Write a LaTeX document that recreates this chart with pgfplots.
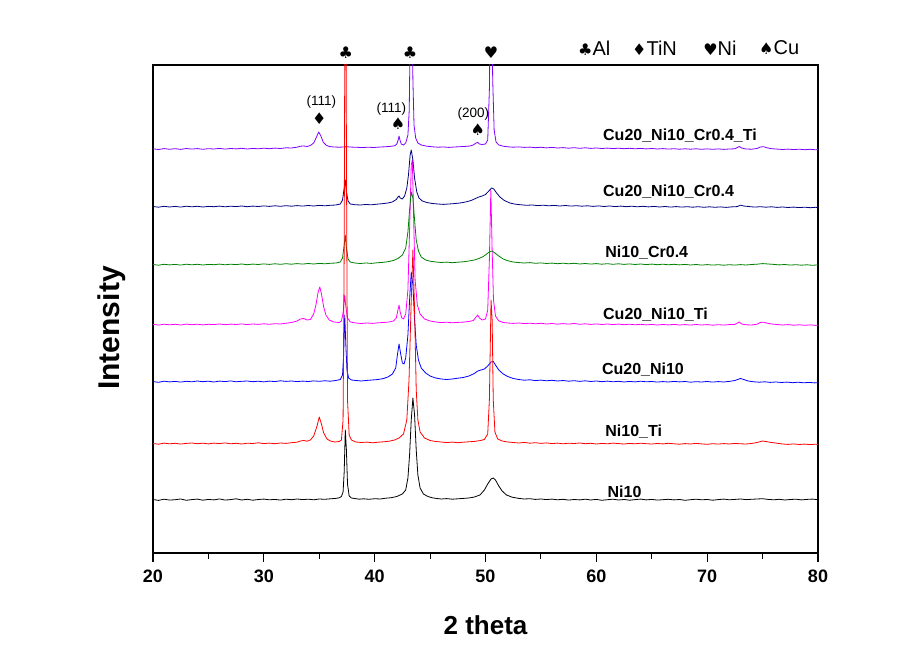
\documentclass[border=0pt]{standalone}
\usepackage{pgfplots}
\pgfplotsset{compat=1.18}
\usepackage{fontspec}
\setmainfont{Liberation Sans}
\newfontfamily\sym{DejaVu Sans}
\definecolor{cviolet}{RGB}{128,0,255}
\definecolor{cnavy}{RGB}{0,0,128}
\definecolor{cgreen}{RGB}{0,128,0}
\definecolor{cmag}{RGB}{255,0,255}
\definecolor{cblue}{RGB}{0,0,255}
\definecolor{cred}{RGB}{255,0,0}
\begin{document}
\begin{tikzpicture}
\path[use as bounding box] (0,0) rectangle (918pt,650pt);
\begin{axis}[at={(153pt,97pt)}, anchor=south west, scale only axis,
  width=665pt, height=488pt,
  xmin=20, xmax=80, ymin=-3, ymax=485,
  axis line style={line width=1.1pt},
  xtick={20,30,...,80}, minor xtick={25,35,...,75},
  ytick=\empty, xtick pos=left, tick align=outside,
  major tick length=9pt, minor tick length=6pt,
  every tick/.style={black, line width=1.1pt},
  xticklabel style={font=\fontsize{18}{18}\selectfont\bfseries, yshift=-4pt},
  /pgf/number format/assume math mode=true,
  clip mode=individual,
  every axis plot/.append style={line width=0.8pt, line join=round},
]
% Ni10 (black)
\addplot[black] coordinates {(20,50.5)(20.5,49.6)(21,50.8)(21.5,49.9)(22,50.3)(22.5,51.0)(23,49.7)(23.5,50.4)(24,50.9)(24.5,49.8)(25,50.6)(25.5,50.1)(26,51.1)(26.5,49.9)(27,50.4)(27.5,51.2)(28,50.0)(28.5,50.7)(29,49.8)(29.5,50.5)(30,50.9)(30.5,50.2)(31,50.6)(31.5,49.9)(32,50.8)(32.5,50.3)(33,51.0)(33.5,50.4)(34,50.8)(34.5,50.2)(35,51.0)(35.5,50.7)(36,51.2)(36.5,51.6)(36.8,52.2)(37.0,53.5)(37.15,58)(37.25,78)(37.35,120)(37.45,100)(37.55,66)(37.7,54)(37.9,52)(38.2,51.5)(38.6,50.8)(39,51.2)(39.5,50.7)(40,51.3)(40.5,51.0)(41,51.8)(41.5,52.3)(42,53.5)(42.5,56)(42.8,60)(43.0,72)(43.15,95)(43.3,130)(43.45,152)(43.6,135)(43.75,100)(43.9,75)(44.1,62)(44.4,56)(44.8,53.5)(45.2,52.2)(45.6,51.5)(46,51.0)(46.5,51.4)(47,50.8)(47.5,51.2)(48,51.6)(48.5,52)(49,53)(49.5,55)(49.9,60)(50.2,66)(50.5,71)(50.7,72)(50.9,70)(51.2,64)(51.5,59)(51.9,55)(52.4,52.8)(53,51.6)(53.5,51.0)(54,51.3)(54.5,50.6)(55,51.0)(55.5,50.4)(56,50.9)(56.5,50.2)(57,50.7)(57.5,49.9)(58,50.5)(58.5,50.1)(59,50.8)(59.5,50.0)(60,50.6)(60.5,49.7)(61,50.3)(61.5,50.8)(62,50.0)(62.5,50.5)(63,49.8)(63.5,50.4)(64,50.9)(64.5,50.1)(65,50.6)(65.5,49.9)(66,50.3)(66.5,50.7)(67,50.1)(67.5,50.5)(68,49.7)(68.5,50.3)(69,50.8)(69.5,50.2)(70,50.5)(70.5,49.8)(71,50.4)(71.5,50.9)(72,50.2)(72.5,50.6)(73,51.0)(73.5,50.4)(74,50.7)(74.5,51.0)(75,51.3)(75.5,50.6)(76,50.2)(76.5,50.7)(77,50.0)(77.5,50.5)(78,50.8)(78.5,50.1)(79,50.6)(79.5,50.9)(80,50.3)};
% Cu20_Ni10 (blue)
\addplot[cblue] coordinates {(20,168.4)(20.5,167.7)(21,168.8)(21.5,168.1)(22,168.6)(22.5,167.9)(23,168.7)(23.5,168.2)(24,169.0)(24.5,168.3)(25,168.8)(25.5,168.0)(26,168.9)(26.5,168.4)(27,169.1)(27.5,168.2)(28,168.7)(28.5,169.0)(29,168.3)(29.5,168.8)(30,168.1)(30.5,168.9)(31,168.4)(31.5,169.2)(32,168.6)(32.5,169.0)(33,168.4)(33.5,168.9)(34,168.5)(34.5,169.1)(35,168.7)(35.5,169.2)(36,168.8)(36.5,169.5)(36.9,170.5)(37.1,175)(37.2,195)(37.3,235)(37.4,205)(37.5,180)(37.65,172)(37.9,170)(38.3,169.5)(38.8,169.0)(39.3,169.6)(39.8,170.0)(40.3,170.5)(40.8,171.5)(41.2,173)(41.6,176)(41.9,182)(42.05,195)(42.2,206)(42.35,196)(42.5,187)(42.65,186)(42.8,192)(43.0,215)(43.15,250)(43.3,278)(43.45,265)(43.6,230)(43.75,205)(43.95,190)(44.2,182)(44.6,177)(45,174)(45.5,172)(46,171)(46.5,170.5)(47,171)(47.5,171.8)(48,172.5)(48.5,174)(49,176.5)(49.3,179)(49.6,180)(49.9,181)(50.2,184)(50.5,188)(50.7,188.5)(50.9,185)(51.2,180)(51.6,176)(52,173.5)(52.5,171.5)(53,170.5)(53.5,169.8)(54,170.2)(54.5,169.4)(55,169.9)(55.5,169.2)(56,169.7)(56.5,169.0)(57,169.5)(57.5,168.8)(58,169.3)(58.5,168.6)(59,169.2)(59.5,168.5)(60,169.0)(60.5,168.3)(61,168.9)(61.5,168.2)(62,168.7)(62.5,168.0)(63,168.6)(63.5,168.1)(64,168.8)(64.5,168.2)(65,168.5)(65.5,167.9)(66,168.4)(66.5,168.0)(67,168.6)(67.5,168.1)(68,168.5)(68.5,167.8)(69,168.3)(69.5,168.0)(70,168.5)(70.5,167.9)(71,168.4)(71.5,168.0)(72,168.6)(72.5,169.5)(73,171.5)(73.3,170.5)(73.7,169)(74.2,168.2)(74.7,167.8)(75.2,168.2)(75.7,167.6)(76.2,168.0)(76.7,167.5)(77.2,167.9)(77.7,167.3)(78.2,167.8)(78.7,167.2)(79.2,167.6)(79.7,167.1)(80,167.4)};
% Cu20_Ni10_Ti (magenta)
\addplot[cmag] coordinates {(20,225.6)(20.5,224.9)(21,225.8)(21.5,225.2)(22,225.7)(22.5,225.0)(23,225.9)(23.5,225.3)(24,225.8)(24.5,225.1)(25,225.7)(25.5,225.4)(26,226.0)(26.5,225.3)(27,225.9)(27.5,225.5)(28,226.1)(28.5,225.4)(29,226.0)(29.5,225.6)(30,226.2)(30.5,225.7)(31,226.3)(31.5,226.0)(32,226.8)(32.5,227.5)(33,229)(33.3,231)(33.6,231.5)(33.9,230)(34.2,230.5)(34.5,236)(34.7,245)(34.9,258)(35.05,263)(35.2,256)(35.4,243)(35.6,235)(35.9,230)(36.3,228)(36.8,227.5)(37.0,229)(37.15,237)(37.3,255)(37.4,243)(37.55,232)(37.8,228)(38.3,227)(38.8,226.5)(39.3,227.0)(39.8,226.6)(40.3,227.2)(40.8,227.5)(41.3,228)(41.7,229)(41.95,232)(42.1,240)(42.2,245)(42.3,238)(42.45,232)(42.6,231)(42.8,236)(43.0,260)(43.15,320)(43.3,385)(43.4,390)(43.5,340)(43.65,270)(43.85,245)(44.1,236)(44.5,231)(45,229)(45.5,228)(46,227.4)(46.5,227.8)(47,227.2)(47.5,227.6)(48,227.9)(48.5,228.5)(48.9,229.5)(49.15,233)(49.3,235)(49.45,232)(49.7,230)(50.0,231)(50.2,240)(50.35,290)(50.48,360)(50.6,300)(50.72,250)(50.9,234)(51.2,229)(51.6,227.5)(52,227.0)(52.5,226.6)(53,227.0)(53.5,226.4)(54,226.8)(54.5,226.2)(55,226.7)(55.5,226.0)(56,226.5)(56.5,225.8)(57,226.4)(57.5,225.9)(58,226.5)(58.5,225.7)(59,226.2)(59.5,225.6)(60,226.1)(60.5,225.5)(61,226.0)(61.5,225.4)(62,225.9)(62.5,225.3)(63,225.8)(63.5,225.2)(64,225.7)(64.5,225.1)(65,225.6)(65.5,225.0)(66,225.5)(66.5,225.1)(67,225.6)(67.5,225.0)(68,225.4)(68.5,224.9)(69,225.5)(69.5,225.0)(70,225.4)(70.5,224.8)(71,225.3)(71.5,224.9)(72,225.4)(72.5,225.6)(72.9,228)(73.1,226)(73.5,225.2)(74,225.0)(74.5,225.8)(74.8,227.5)(75.1,227.8)(75.4,226.8)(75.8,226.0)(76.3,225.5)(76.8,225.0)(77.3,225.4)(77.8,224.8)(78.3,225.2)(78.8,224.7)(79.3,225.1)(79.8,224.6)(80,224.9)};
% Ni10_Cr0.4 (green)
\addplot[cgreen] coordinates {(20,285.5)(20.5,284.8)(21,285.7)(21.5,285.1)(22,285.6)(22.5,284.9)(23,285.8)(23.5,285.2)(24,285.7)(24.5,285.0)(25,285.6)(25.5,285.3)(26,285.9)(26.5,285.2)(27,285.8)(27.5,285.4)(28,286.0)(28.5,285.3)(29,285.9)(29.5,285.5)(30,286.1)(30.5,285.6)(31,286.2)(31.5,285.7)(32,286.3)(32.5,285.8)(33,286.4)(33.5,285.9)(34,286.5)(34.5,286.0)(35,286.6)(35.5,286.2)(36,286.7)(36.5,287.0)(36.9,288)(37.1,292)(37.25,305)(37.35,315)(37.45,302)(37.6,291)(37.8,288)(38.2,287)(38.7,286.5)(39.2,287.0)(39.7,286.6)(40.2,287.2)(40.7,287.6)(41.2,288.3)(41.7,289.5)(42.1,291.5)(42.5,295)(42.8,302)(43.0,318)(43.15,340)(43.3,358)(43.45,352)(43.6,330)(43.75,310)(43.95,299)(44.2,293)(44.6,290)(45,288.8)(45.5,288.0)(46,287.5)(46.5,287.9)(47,287.3)(47.5,287.8)(48,288.2)(48.5,289)(49,290)(49.4,291.5)(49.8,293.5)(50.1,296)(50.4,298.5)(50.6,299)(50.85,297)(51.2,294)(51.6,291)(52,289.3)(52.5,288.0)(53,287.4)(53.5,287.0)(54,287.4)(54.5,286.7)(55,287.1)(55.5,286.5)(56,286.9)(56.5,286.3)(57,286.8)(57.5,286.2)(58,286.7)(58.5,286.0)(59,286.5)(59.5,285.9)(60,286.4)(60.5,285.8)(61,286.3)(61.5,285.7)(62,286.2)(62.5,285.6)(63,286.1)(63.5,285.5)(64,286.0)(64.5,285.4)(65,285.9)(65.5,285.3)(66,285.8)(66.5,285.2)(67,285.7)(67.5,285.1)(68,285.6)(68.5,285.0)(69,285.5)(69.5,284.9)(70,285.4)(70.5,284.9)(71,285.3)(71.5,284.8)(72,285.3)(72.5,284.9)(73,285.4)(73.5,285.0)(74,285.5)(74.5,285.8)(75,286.4)(75.5,286.0)(76,285.6)(76.5,285.1)(77,285.5)(77.5,284.9)(78,285.3)(78.5,284.8)(79,285.2)(79.5,284.7)(80,285.1)};
% Cu20_Ni10_Cr0.4 (navy)
\addplot[cnavy] coordinates {(20,343.5)(20.5,342.8)(21,343.7)(21.5,343.0)(22,343.6)(22.5,342.9)(23,343.8)(23.5,343.2)(24,343.7)(24.5,343.0)(25,343.6)(25.5,343.3)(26,343.9)(26.5,343.2)(27,343.8)(27.5,343.4)(28,344.0)(28.5,343.3)(29,343.9)(29.5,343.5)(30,344.1)(30.5,343.6)(31,344.2)(31.5,343.7)(32,344.3)(32.5,343.8)(33,344.4)(33.5,343.9)(34,344.5)(34.5,344.0)(35,344.6)(35.5,344.2)(36,344.7)(36.5,345.0)(36.9,346)(37.1,350)(37.25,362)(37.35,370)(37.45,358)(37.6,349)(37.8,346)(38.2,345.3)(38.7,345.0)(39.2,345.5)(39.7,345.2)(40.2,345.8)(40.7,346.3)(41.2,347)(41.6,348)(41.95,350.5)(42.1,353)(42.2,354)(42.3,352)(42.5,351)(42.7,354)(42.9,362)(43.05,375)(43.2,395)(43.3,400)(43.45,390)(43.6,372)(43.8,358)(44.0,352)(44.3,349)(44.7,347.5)(45.2,346.5)(45.7,346)(46.2,345.6)(46.7,346.0)(47.2,346.4)(47.7,347)(48.2,348)(48.7,349.5)(49.1,351.5)(49.4,353)(49.7,354)(50.0,355.5)(50.3,359)(50.55,362)(50.75,361)(51.0,357)(51.3,353)(51.7,349.5)(52.2,347)(52.7,345.8)(53.2,345.2)(53.7,344.7)(54.2,345.0)(54.7,344.4)(55.2,344.8)(55.7,344.2)(56.2,344.6)(56.7,344.0)(57.2,344.5)(57.7,343.9)(58.2,344.3)(58.7,343.8)(59.2,344.2)(59.7,343.6)(60.2,344.1)(60.7,343.5)(61.2,344.0)(61.7,343.4)(62.2,343.9)(62.7,343.3)(63.2,343.8)(63.7,343.2)(64.2,343.7)(64.7,343.1)(65.2,343.6)(65.7,343.0)(66.2,343.5)(66.7,342.9)(67.2,343.4)(67.7,342.9)(68.2,343.3)(68.7,342.8)(69.2,343.3)(69.7,342.7)(70.2,343.2)(70.7,342.7)(71.2,343.1)(71.7,342.6)(72.2,343.1)(72.7,343.4)(73.0,344.8)(73.3,344.0)(73.8,343.4)(74.3,342.9)(74.8,343.3)(75.3,342.8)(75.8,343.2)(76.3,342.6)(76.8,343.0)(77.3,342.5)(77.8,342.9)(78.3,342.4)(78.8,342.8)(79.3,342.3)(79.8,342.7)(80,342.4)};
% Cu20_Ni10_Cr0.4_Ti (violet)
\addplot[cviolet] coordinates {(20,401.2)(20.5,400.5)(21,401.4)(21.5,400.7)(22,401.3)(22.5,400.6)(23,401.5)(23.5,400.9)(24,401.4)(24.5,400.7)(25,401.3)(25.5,401.0)(26,401.6)(26.5,400.9)(27,401.5)(27.5,401.1)(28,401.7)(28.5,401.0)(29,401.6)(29.5,401.2)(30,401.8)(30.5,401.3)(31,401.9)(31.5,401.5)(32,402.2)(32.5,402.0)(33,402.8)(33.3,403.8)(33.6,404)(33.9,403.5)(34.2,404.5)(34.5,407)(34.75,413)(34.95,418)(35.15,414)(35.35,408)(35.6,405)(35.9,403.5)(36.3,403)(36.8,402.8)(37.2,403)(37.5,403.2)(37.9,402.9)(38.4,402.7)(38.9,402.4)(39.4,402.8)(39.9,402.5)(40.4,402.9)(40.9,403.2)(41.4,403.6)(41.8,404.2)(42.0,406)(42.12,410)(42.2,414)(42.28,410)(42.4,406)(42.6,405)(42.8,407)(43.0,415)(43.12,440)(43.25,560)(43.35,560)(43.45,470)(43.55,425)(43.7,412)(43.9,407)(44.2,405)(44.7,403.8)(45.2,403.2)(45.7,402.8)(46.2,403.0)(46.7,402.6)(47.2,403.0)(47.7,403.3)(48.2,403.6)(48.6,404.0)(48.9,405)(49.15,407)(49.3,407.5)(49.45,406)(49.7,405.5)(50.0,406)(50.2,410)(50.35,460)(50.45,560)(50.55,560)(50.65,470)(50.78,420)(50.95,408)(51.2,405)(51.6,403.8)(52,403.2)(52.5,402.8)(53,403.1)(53.5,402.6)(54,402.9)(54.5,402.3)(55,402.7)(55.5,402.1)(56,402.6)(56.5,402.0)(57,402.4)(57.5,401.8)(58,402.3)(58.5,401.7)(59,402.2)(59.5,401.6)(60,402.0)(60.5,401.5)(61,401.9)(61.5,401.4)(62,401.8)(62.5,401.3)(63,401.7)(63.5,401.2)(64,401.6)(64.5,401.1)(65,401.5)(65.5,401.0)(66,401.4)(66.5,400.9)(67,401.3)(67.5,400.8)(68,401.2)(68.5,400.8)(69,401.2)(69.5,400.7)(70,401.1)(70.5,400.7)(71,401.1)(71.5,400.6)(72,401.0)(72.5,401.2)(72.9,403.5)(73.1,402.0)(73.5,401.0)(74,400.8)(74.5,401.5)(74.8,403.0)(75.1,403.3)(75.4,402.2)(75.8,401.3)(76.3,400.9)(76.8,400.5)(77.3,400.9)(77.8,400.4)(78.3,400.8)(78.8,400.3)(79.3,400.7)(79.8,400.2)(80,400.5)};
% Ni10_Ti (red)
\addplot[cred] coordinates {(20,106.5)(20.5,105.8)(21,106.9)(21.5,106.2)(22,106.7)(22.5,105.9)(23,106.6)(23.5,107.0)(24,106.3)(24.5,106.8)(25,106.1)(25.5,106.9)(26,106.4)(26.5,107.1)(27,106.2)(27.5,106.7)(28,106.0)(28.5,106.8)(29,106.5)(29.5,107.2)(30,106.4)(30.5,106.9)(31,106.3)(31.5,107.0)(32,106.6)(32.5,107.3)(33,107.8)(33.3,109)(33.6,109.5)(33.9,108.8)(34.2,110)(34.5,114)(34.8,124)(35.0,133)(35.2,126)(35.4,117)(35.7,111)(36.0,109)(36.4,108)(36.8,108.5)(37.0,110)(37.15,130)(37.25,300)(37.32,560)(37.4,560)(37.47,350)(37.55,150)(37.7,115)(37.9,110)(38.3,108)(38.8,107.5)(39.3,107.9)(39.8,107.2)(40.3,107.8)(40.8,108.2)(41.3,108.8)(41.8,110)(42.2,112)(42.6,116)(42.9,130)(43.1,170)(43.3,250)(43.45,300)(43.6,240)(43.75,160)(43.9,130)(44.1,118)(44.5,112)(45,109.5)(45.5,108.5)(46,108)(46.5,107.4)(47,107.9)(47.5,107.3)(48,107.8)(48.5,108.2)(49,108.6)(49.5,109.4)(49.9,110.5)(50.2,116)(50.35,150)(50.5,250)(50.6,230)(50.7,150)(50.85,118)(51.1,111)(51.5,109)(52,108)(52.5,107.5)(53,107.0)(53.5,107.6)(54,106.8)(54.5,107.3)(55,106.6)(55.5,107.1)(56,106.4)(56.5,106.9)(57,106.2)(57.5,106.8)(58,106.5)(58.5,107.0)(59,106.3)(59.5,106.7)(60,106.0)(60.5,106.6)(61,106.2)(61.5,106.9)(62,106.4)(62.5,106.0)(63,106.6)(63.5,106.2)(64,106.8)(64.5,106.3)(65,106.0)(65.5,106.5)(66,106.1)(66.5,106.7)(67,106.2)(67.5,105.8)(68,106.4)(68.5,106.0)(69,106.6)(69.5,106.1)(70,105.7)(70.5,106.3)(71,105.9)(71.5,106.4)(72,106.0)(72.5,106.6)(73,106.2)(73.5,106.0)(74,106.5)(74.5,107.5)(75,109)(75.3,108.5)(75.8,107.5)(76.3,106.8)(76.8,106.0)(77.3,105.6)(77.8,106.1)(78.3,105.5)(78.8,105.9)(79.3,105.4)(79.8,105.8)(80,105.5)};
% sample labels
\begin{scope}[every node/.style={anchor=west, inner sep=0pt, font=\fontsize{16}{16}\selectfont\bfseries}]
\node at (axis cs:60.6,414) {Cu20\_Ni10\_Cr0.4\_Ti};
\node at (axis cs:60.6,358) {Cu20\_Ni10\_Cr0.4};
\node at (axis cs:60.8,297) {Ni10\_Cr0.4};
\node at (axis cs:60.6,235) {Cu20\_Ni10\_Ti};
\node at (axis cs:60.5,180) {Cu20\_Ni10};
\node at (axis cs:60.8,118) {Ni10\_Ti};
\node at (axis cs:61.0,58) {Ni10};
\end{scope}
% peak annotations
\begin{scope}[every node/.style={inner sep=0pt, font=\fontsize{13.5}{13.5}\selectfont}]
\node at (axis cs:35.2,448) {(111)};
\node at (axis cs:41.5,441) {(111)};
\node at (axis cs:48.9,436) {(200)};
\end{scope}
\begin{scope}[every node/.style={inner sep=0pt, font=\fontsize{16}{16}\selectfont\sym}]
\node at (axis cs:35.0,431) {♦};
\node at (axis cs:42.1,426) {♠};
\node at (axis cs:49.3,420) {♠};
\node at (axis cs:37.4,497) {♣};
\node at (axis cs:43.2,497) {♣};
\node at (axis cs:50.5,497) {♥};
\end{scope}
% symbol legend
\begin{scope}[every node/.style={anchor=west, inner sep=0pt, font=\fontsize{20}{20}\selectfont}]
\node at (axis cs:58.35,502) {{\sym\fontsize{16}{16}\selectfont ♣}Al};
\node at (axis cs:63.22,502) {{\sym\fontsize{16}{16}\selectfont ♦}TiN};
\node at (axis cs:69.63,502) {{\sym\fontsize{16}{16}\selectfont ♥}Ni};
\node at (axis cs:74.68,502) {{\sym\fontsize{16}{16}\selectfont ♠}Cu};
\end{scope}
% axis labels
\node[font=\fontsize{26}{26}\selectfont\bfseries] at (axis cs:50,-75) {2 theta};
\node[rotate=90, font=\fontsize{30}{30}\selectfont\bfseries] at (axis cs:16.3,222) {Intensity};
\end{axis}
\end{tikzpicture}
\end{document}
